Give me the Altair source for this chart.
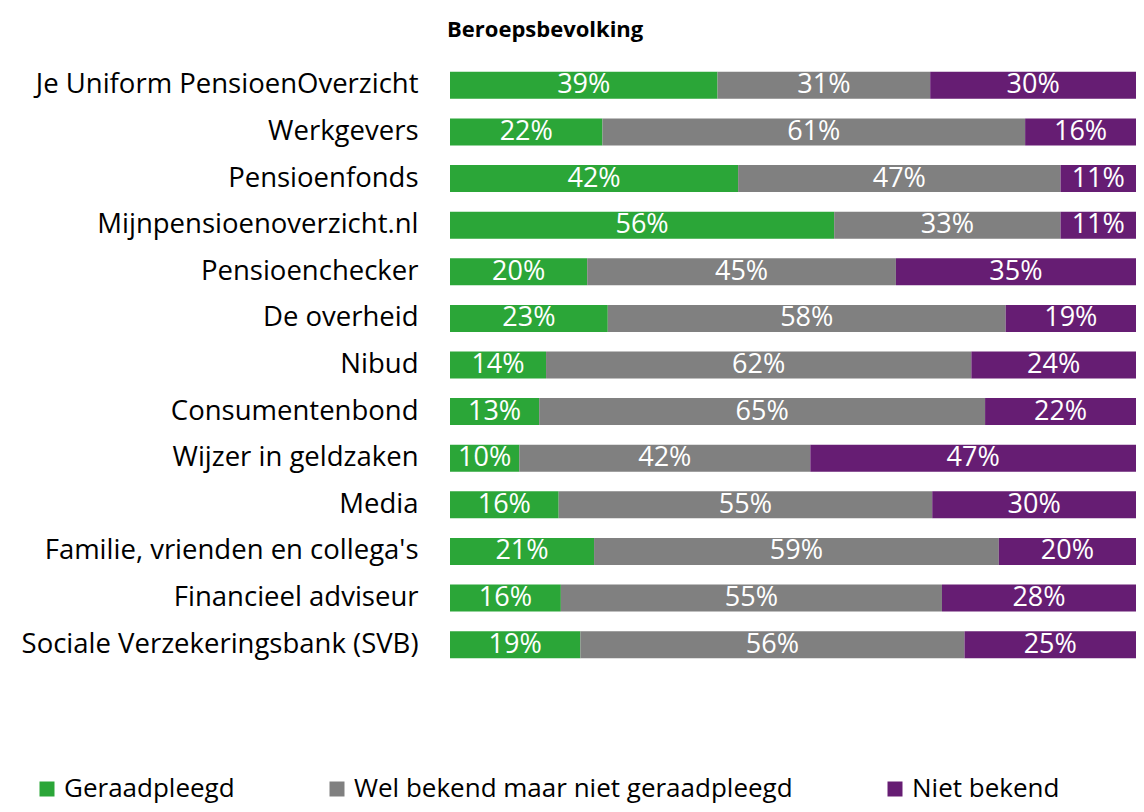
import altair as alt
import pandas as pd

categories = [
    "Je Uniform PensioenOverzicht",
    "Werkgevers",
    "Pensioenfonds",
    "Mijnpensioenoverzicht.nl",
    "Pensioenchecker",
    "De overheid",
    "Nibud",
    "Consumentenbond",
    "Wijzer in geldzaken",
    "Media",
    "Familie, vrienden en collega's ",
    "Financieel adviseur",
    "Sociale Verzekeringsbank (SVB)",
]
geraadpleegd = [39, 22, 42, 56, 20, 23, 14, 13, 10, 16, 21, 16, 19]
wel_bekend = [31, 61, 47, 33, 45, 58, 62, 65, 42, 55, 59, 55, 56]
niet_bekend = [30, 16, 11, 11, 35, 19, 24, 22, 47, 30, 20, 28, 25]
series = ["Geraadpleegd", "Wel bekend maar niet geraadpleegd", "Niet bekend"]
colors = ["#2BA638", "#808080", "#661D73"]

rows = []
for i, c in enumerate(categories):
    for k, vals in enumerate([geraadpleegd, wel_bekend, niet_bekend]):
        rows.append({"cat": c, "series": series[k], "order": k, "value": vals[i]})
df = pd.DataFrame(rows)

FONT = "Open Sans"

base = alt.Chart(df).transform_stack(
    stack="value", groupby=["cat"], as_=["x0", "x1"],
    sort=[alt.SortField("order", order="ascending")], offset="normalize"
)

y_enc = alt.Y(
    "cat:N", sort=categories, title=None,
    scale=alt.Scale(paddingInner=0, paddingOuter=0),
    axis=alt.Axis(domain=False, ticks=False, labelPadding=32, labelFontSize=27.5,
                  labelFont=FONT, labelColor="#000000", labelLimit=500),
)

bars = base.mark_bar(size=27).encode(
    y=y_enc,
    x=alt.X("x0:Q", scale=alt.Scale(domain=[0, 1]), axis=None),
    x2="x1:Q",
    color=alt.Color(
        "series:N",
        scale=alt.Scale(domain=series, range=colors),
        title=None,
        legend=alt.Legend(
            orient="none", legendX=-416, legendY=714, direction="horizontal",
            symbolType="square", symbolSize=225, symbolStrokeWidth=0,
            labelFontSize=26, labelFont=FONT, labelColor="#000000",
            columnPadding=89, labelOffset=4, labelLimit=600,
        ),
    ),
)

text = base.transform_calculate(
    mid="(datum.x0 + datum.x1) / 2", label="datum.value + '%'"
).mark_text(color="white", fontSize=27, font=FONT, baseline="middle").encode(
    y=alt.Y("cat:N", sort=categories),
    x=alt.X("mid:Q"),
    text="label:N",
)

chart = (bars + text).properties(
    width=686, height=606,
    autosize=alt.AutoSizeParams(type="none"),
    padding={"left": 442, "top": 54, "right": 0, "bottom": 144},
    title=alt.TitleParams("Beroepsbevolking", anchor="start", frame="group",
                          fontSize=22, font=FONT, fontWeight="bold", color="#000000",
                          dx=-3, offset=20),
).configure_view(stroke=None)

chart.save("out.html", embed_options={"renderer": "svg", "actions": False})
